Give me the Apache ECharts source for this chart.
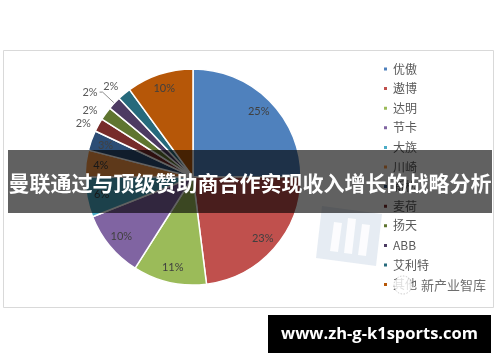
<!DOCTYPE html>
<html>
<head>
<meta charset="utf-8">
<script src="https://cdn.jsdelivr.net/npm/echarts@6/dist/echarts.min.js"></script>
<style>
  html, body { margin: 0; padding: 0; background: #fff; }
  #chart { width: 500px; height: 362px; }
</style>
</head>
<body>
<div id="chart"></div>
<script>
// Market share by brand (percent)
const brands = ['优傲', '遨博', '达明', '节卡', '大族', '川崎', '新松', '麦荷', '扬天', 'ABB', '艾利特', '其他'];
const shares = [25, 23, 11, 10, 6, 4, 3, 2, 2, 2, 2, 10];
const palette = ['#4F81BD', '#C0504D', '#9BBB59', '#8064A2', '#4BACC6', '#F79646',
                 '#2C4D75', '#772C2A', '#5F7530', '#4D3B62', '#276A7C', '#B65708'];
// slices whose percentage sits outside the pie
const outsideIdx = [7, 8, 9, 10];
const leaderIdx = [9];
const titleText = '曼联通过与顶级赞助商合作实现收入增长的战略分析';
const siteText = 'www.zh-g-k1sports.com';
const markText = '新产业智库';

const CENTER = [193, 177];
const R = 108;
const labelFont = 'Lato';

// leader geometry for the outside labels: [length, length2, gap]
const outsideLine = { 7: [4, 2, 2], 8: [5, 2, 2], 9: [16, 3, 2], 10: [9, 0, 0] };

const mainData = brands.map((name, i) => {
  const outside = outsideIdx.includes(i);
  const item = {
    name,
    value: shares[i],
    itemStyle: { color: palette[i] },
    label: { show: outside }
  };
  if (outside) {
    const [len, len2, gap] = outsideLine[i];
    item.label.distanceToLabelLine = gap;
    item.labelLine = { show: leaderIdx.includes(i), length: len, length2: len2 };
  }
  return item;
});

const innerLabelData = brands.map((name, i) => ({
  name,
  value: shares[i],
  label: { show: !outsideIdx.includes(i) }
}));

const chart = echarts.init(document.getElementById('chart'), null, { renderer: 'canvas' });
chart.setOption({
  backgroundColor: '#ffffff',
  animation: false,
  legend: {
    orient: 'vertical',
    left: 382,
    top: 63,
    padding: 0,
    icon: 'rect',
    itemWidth: 5,
    itemHeight: 5,
    itemGap: 7.6,
    data: brands,
    textStyle: { fontSize: 12, color: '#595959', fontFamily: 'Noto Sans CJK SC' }
  },
  series: [
    {
      type: 'pie',
      center: CENTER,
      radius: [0, R],
      startAngle: 90,
      clockwise: true,
      avoidLabelOverlap: false,
      data: mainData,
      itemStyle: { borderColor: '#ffffff', borderWidth: 1.5 },
      label: {
        position: 'outside',
        formatter: p => p.value + '%',
        fontSize: 11,
        fontFamily: labelFont,
        color: '#595959'
      },
      labelLine: { lineStyle: { color: '#8c8c8c', width: 1 }, smooth: false },
      emphasis: { disabled: true }
    },
    {
      // transparent ring that carries the in-slice percentages
      type: 'pie',
      center: CENTER,
      radius: [72, R],
      startAngle: 90,
      clockwise: true,
      silent: true,
      data: innerLabelData,
      itemStyle: { color: 'rgba(0,0,0,0)', borderWidth: 0 },
      label: {
        position: 'inside',
        formatter: p => p.value + '%',
        fontSize: 11,
        fontFamily: labelFont,
        color: '#404040'
      },
      labelLine: { show: false },
      emphasis: { disabled: true }
    }
  ],
  graphic: [
    {
      type: 'rect',
      z: -10,
      shape: { x: 3.5, y: 50.5, width: 490, height: 257 },
      style: { fill: 'none', stroke: '#d9d9d9', lineWidth: 1 }
    },
    // faint logo mark behind the title band
    {
      type: 'polygon', z: 40,
      shape: { points: [[322, 206], [382, 214], [376, 266], [316, 258]] },
      style: { fill: 'rgba(200,212,228,0.45)' }
    },
    {
      type: 'polygon', z: 41,
      shape: { points: [[334, 222], [342, 223], [338, 252], [330, 251]] },
      style: { fill: 'rgba(255,255,255,0.85)' }
    },
    {
      type: 'polygon', z: 41,
      shape: { points: [[348, 218], [356, 219], [352, 254], [344, 253]] },
      style: { fill: 'rgba(255,255,255,0.85)' }
    },
    {
      type: 'polygon', z: 41,
      shape: { points: [[362, 224], [370, 225], [366, 256], [358, 255]] },
      style: { fill: 'rgba(255,255,255,0.85)' }
    },
    // publisher mark over the last legend entry
    {
      type: 'circle', z: 60,
      shape: { cx: 403, cy: 285, r: 9 },
      style: { fill: 'rgba(255,255,255,0.8)', stroke: 'rgba(170,170,170,0.6)', lineWidth: 1, lineDash: [1.5, 1.5] }
    },
    {
      type: 'text', z: 61,
      style: {
        x: 421, y: 285, text: markText,
        font: '13px "Noto Sans CJK SC"', fill: '#6e6e6e',
        verticalAlign: 'middle', textAlign: 'left'
      }
    },
    // title band
    {
      type: 'rect', z: 100,
      shape: { x: 8, y: 150, width: 484, height: 63 },
      style: { fill: 'rgba(0,0,0,0.62)' }
    },
    {
      type: 'text', z: 101,
      style: {
        x: 250, y: 183, text: titleText,
        font: 'bold 21px "Noto Sans CJK SC"', fill: '#ffffff',
        textAlign: 'center', verticalAlign: 'middle'
      }
    },
    // site caption
    {
      type: 'rect', z: 100,
      shape: { x: 268, y: 315, width: 223, height: 38 },
      style: { fill: '#000000' }
    },
    {
      type: 'text', z: 101,
      style: {
        x: 379.5, y: 334, text: siteText,
        font: 'bold 16.5px "Open Sans"', fill: '#ffffff',
        textAlign: 'center', verticalAlign: 'middle'
      }
    }
  ]
});
</script>
</body>
</html>
